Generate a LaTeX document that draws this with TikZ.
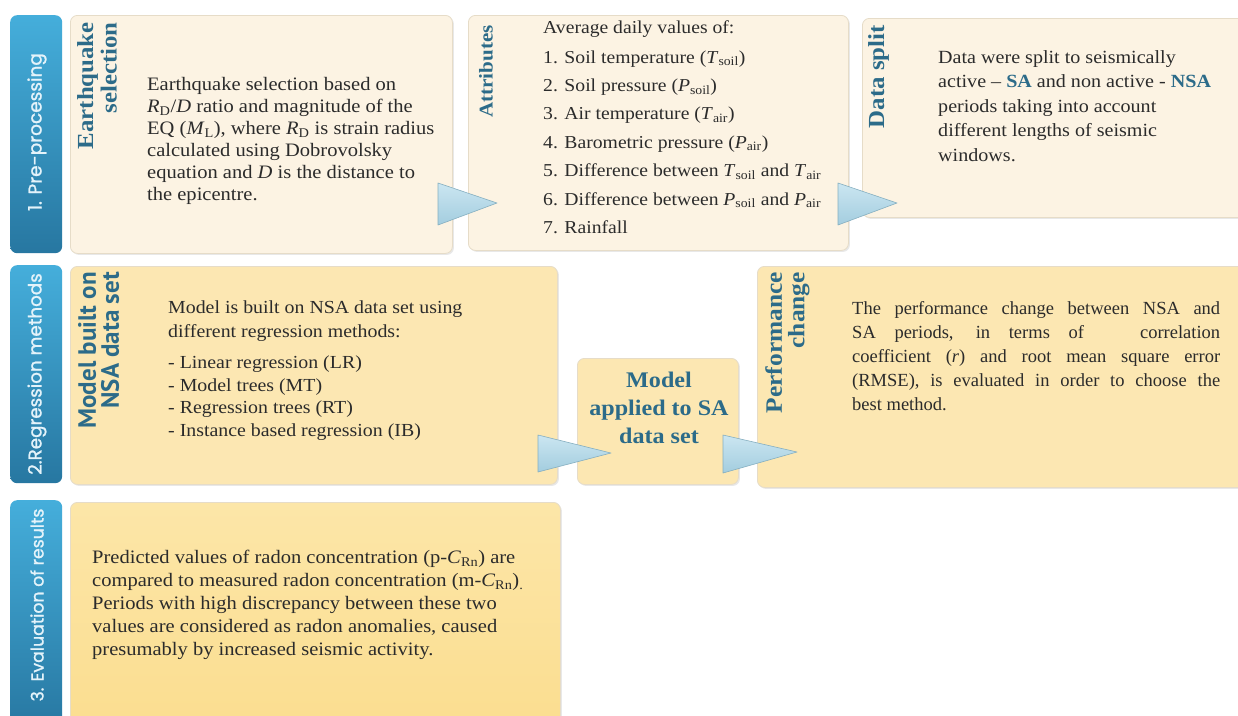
\documentclass[tikz,border=0pt]{standalone}
\usepackage{fontspec}
\setmainfont[FakeStretch=1.08]{Liberation Serif}
\newfontfamily\narrowserif{Liberation Serif}
\newfontfamily\barfont[FakeBold=1.2]{Poppins}
\newfontfamily\titlesans{PT Sans}
\usetikzlibrary{shadows}
\definecolor{creamfill}{HTML}{FCF3E3}
\definecolor{yelfill}{HTML}{FCE7B2}
\definecolor{yeltop}{HTML}{FCE6A8}
\definecolor{yelbot}{HTML}{FBDD8E}
\definecolor{boxedge}{HTML}{E6DCC8}
\definecolor{titleteal}{HTML}{2C6B89}
\definecolor{bartop}{HTML}{45AEDB}
\definecolor{barbot}{HTML}{2777A1}
\definecolor{bartxt}{HTML}{E4F3FA}
\definecolor{bodytxt}{HTML}{2B2B2B}
\definecolor{tritop}{HTML}{CBE6F1}
\definecolor{tribot}{HTML}{A3CDDF}
\definecolor{triedge}{HTML}{86AFC0}
\tikzset{
  box/.style={rounded corners=7pt, draw=boxedge, line width=0.8pt, anchor=north west,
    drop shadow={opacity=0.18, shadow xshift=1.5pt, shadow yshift=-1.5pt}},
  bar/.style={rounded corners=7pt, top color=bartop, bottom color=barbot, draw=none, anchor=north west},
  bartext/.style={rotate=90, text=bartxt, inner sep=0pt},
  title/.style={rotate=90, anchor=north east, align=right, text=titleteal, inner sep=0pt},
  body/.style={anchor=north west, align=left, text=bodytxt, inner sep=0pt},
  tri/.style={top color=tritop, bottom color=tribot, draw=triedge, line width=0.6pt, line join=round},
}
\newcommand{\hl}[1]{\textcolor{titleteal}{\bfseries #1}}
\newcommand{\vsub}[2]{\textit{#1}\textsubscript{#2}}
\begin{document}
\begin{tikzpicture}[x=1pt,y=-1pt]
\useasboundingbox (0,0) rectangle (1238,715);
\clip (0,0) rectangle (1238,715);
\fill[white] (0,0) rectangle (1238,715);

% side bars
\node[bar, minimum width=52pt, minimum height=238pt] (bar1) at (10,15) {};
\node[bar, minimum width=52pt, minimum height=218pt] (bar2) at (10,265) {};
\node[bar, minimum width=52pt, minimum height=230pt] (bar3) at (10,500) {};
\node[bartext, font=\barfont\fontsize{18.5}{20}\selectfont] (bar1t) at (37,132) {1. Pre-processing};
\node[bartext, font=\barfont\fontsize{18.3}{20}\selectfont] (bar2t) at (37,374) {2.Regression methods};
\node[bartext, font=\barfont\fontsize{17.3}{20}\selectfont] (bar3t) at (37,605) {3. Evaluation of results};

% row 1 boxes
\node[box, fill=creamfill, minimum width=382pt, minimum height=238pt] (eq) at (70,15) {};
\node[box, fill=creamfill, minimum width=380pt, minimum height=235pt] (attr) at (468,15) {};
\node[box, fill=creamfill, minimum width=400pt, minimum height=199pt] (split) at (862,18) {};

% row 2 boxes
\node[box, fill=yelfill, minimum width=487pt, minimum height=218pt] (nsa) at (70,266) {};
\node[box, fill=yelfill, minimum width=161pt, minimum height=126pt] (app) at (577,358) {};
\node[box, fill=yelfill, minimum width=500pt, minimum height=221pt] (perf) at (757,266) {};

% row 3 box
\node[box, top color=yeltop, bottom color=yelbot, minimum width=490pt, minimum height=240pt] (eval) at (70,502) {};

% titles
\node[title, font=\bfseries\fontsize{23}{23.5}\selectfont] (eqtitle) at (77,22) {Earthquake\\selection};
\node[title, font=\bfseries\fontsize{19.5}{20}\selectfont] (attrtitle) at (479,25) {Attributes};
\node[title, font=\bfseries\fontsize{23}{23.5}\selectfont] (splittitle) at (868,25) {Data split};
\node[title, font=\titlesans\bfseries\fontsize{25}{23}\selectfont] (nsatitle) at (78,272) {Model built on\\NSA data set};
\node[title, font=\bfseries\fontsize{23.5}{22.5}\selectfont] (perftitle) at (765,272) {Performance\\change};

% body texts
\node[body, font=\fontsize{19}{22}\selectfont] (eqtext) at (147,77) {Earthquake selection based on\\
\vsub{R}{D}/\textit{D} ratio and magnitude of the\\
EQ (\vsub{M}{L}), where \vsub{R}{D} is strain radius\\
calculated using Dobrovolsky\\
equation and \textit{D} is the distance to\\
the epicentre.};

\node[body, font=\fontsize{18.2}{28.4}\selectfont] (attrtext) at (543,20) {Average daily values of:\\[1.6pt]
1. Soil temperature (\vsub{T}{soil})\\
2. Soil pressure (\vsub{P}{soil})\\
3. Air temperature (\vsub{T}{air})\\
4. Barometric pressure (\vsub{P}{air})\\
5. Difference between \vsub{T}{soil} and \vsub{T}{air}\\
6. Difference between \vsub{P}{soil} and \vsub{P}{air}\\
7. Rainfall};

\node[body, font=\fontsize{18.6}{24.5}\selectfont] (splittext) at (938,50) {Data were split to seismically\\
active -- \hl{SA} and non active - \hl{NSA}\\
periods taking into account\\
different lengths of seismic\\
windows.};

\node[body, font=\fontsize{18.4}{22.5}\selectfont] (nsatext) at (168,301) {Model is built on NSA data set using\\[1.5pt]
different regression methods:\\[8.5pt]
- Linear regression (LR)\\
- Model trees (MT)\\
- Regression trees (RT)\\
- Instance based regression (IB)};

\node[align=center, text=titleteal, inner sep=0pt, font=\bfseries\fontsize{22.3}{28}\selectfont] (apptext) at (659,408) {Model\\applied to SA\\data set};

\node[body, align=justify, text width=368pt, font=\narrowserif\fontsize{18.5}{24}\selectfont] (perftext) at (852,301) {The performance change between NSA and\linebreak
SA periods, in terms of\ \ \ correlation\linebreak
coefficient (\textit{r}) and root mean square error\linebreak
(RMSE), is evaluated in order to choose the\linebreak
best method.};

\node[body, font=\fontsize{19}{23}\selectfont] (evaltext) at (92,550) {Predicted values of radon concentration (p-\vsub{C}{Rn}) are\\
compared to measured radon concentration (m-\vsub{C}{Rn})\textsubscript{.}\\
Periods with high discrepancy between these two\\
values are considered as radon anomalies, caused\\
presumably by increased seismic activity.};

% arrow triangles
\path[tri] (438,183) -- (497,203) -- (438,225) -- cycle;
\path[tri] (838,183) -- (897,203) -- (838,225) -- cycle;
\path[tri] (538,435) -- (611,453) -- (538,472) -- cycle;
\path[tri] (723,435) -- (797,452) -- (723,473) -- cycle;
\end{tikzpicture}
\end{document}
